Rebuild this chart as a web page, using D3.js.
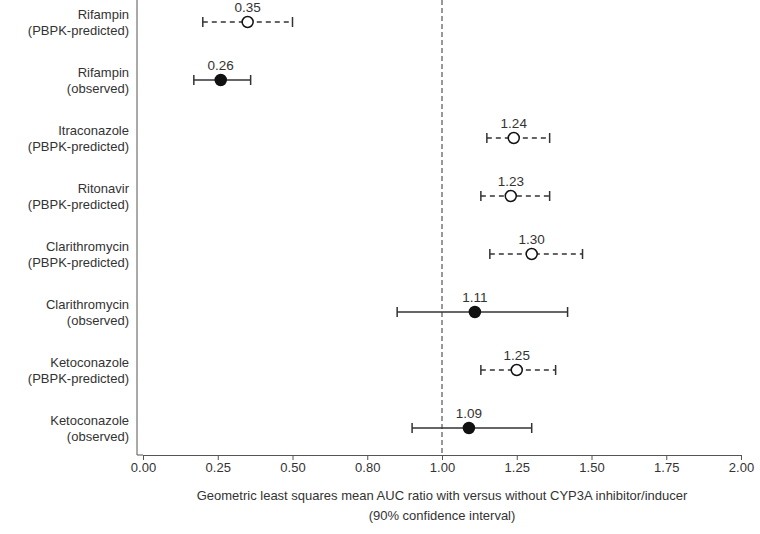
<!DOCTYPE html><html><head><meta charset="utf-8"><script src="https://cdn.jsdelivr.net/npm/d3@7"></script>
<style>body{margin:0;background:#fff}text{font-family:Arial,"Liberation Sans",sans-serif}</style></head><body><svg id="c" width="760" height="534"></svg>
<script>
const drugs=["Rifampin","Rifampin","Itraconazole","Ritonavir","Clarithromycin","Clarithromycin","Ketoconazole","Ketoconazole"];
const kinds=["(PBPK-predicted)","(observed)","(PBPK-predicted)","(PBPK-predicted)","(PBPK-predicted)","(observed)","(PBPK-predicted)","(observed)"];
const est=[0.35,0.26,1.24,1.23,1.30,1.11,1.25,1.09];
const lo=[0.20,0.17,1.15,1.13,1.16,0.85,1.13,0.90];
const hi=[0.50,0.36,1.36,1.36,1.47,1.42,1.38,1.30];
const tickVals=[0,0.25,0.5,0.75,1,1.25,1.5,1.75,2];
const tickLabels=["0.00","0.25","0.50","0.80","1.00","1.25","1.50","1.75","2.00"];
const svg=d3.select("#c");
const x=d3.scaleLinear().domain([0,2]).range([143,741]);
const y=d3.scaleBand().domain(d3.range(8)).range([0,464]).padding(0);
const cy=i=>y(i)+y.bandwidth()/2-7;
svg.append("g").attr("transform","translate(0,455)").call(d3.axisBottom(x).tickValues(tickVals).tickFormat((d,i)=>tickLabels[i]).tickSizeOuter(0).tickSize(5))
 .call(g=>{g.selectAll("text").attr("font-size",13).attr("fill","#333");g.selectAll("path,line").attr("stroke","#555");});
svg.append("line").attr("x1",137).attr("x2",137).attr("y1",0).attr("y2",455).attr("stroke","#555");
svg.append("line").attr("x1",137).attr("x2",143).attr("y1",455).attr("y2",455).attr("stroke","#555");
svg.append("line").attr("x1",x(1)).attr("x2",x(1)).attr("y1",0).attr("y2",455).attr("stroke","#777").attr("stroke-dasharray","5,3").attr("stroke-width",1.5);
d3.range(8).forEach(i=>{
 const g=svg.append("g"),yy=cy(i),pred=kinds[i].includes("PBPK");
 g.append("line").attr("x1",x(lo[i])).attr("x2",x(hi[i])).attr("y1",yy).attr("y2",yy).attr("stroke","#333").attr("stroke-width",1.5).attr("stroke-dasharray",pred?"5,4":null);
 [lo[i],hi[i]].forEach(v=>g.append("line").attr("x1",x(v)).attr("x2",x(v)).attr("y1",yy-5).attr("y2",yy+5).attr("stroke","#333").attr("stroke-width",1.5));
 g.append("circle").attr("cx",x(est[i])).attr("cy",yy).attr("r",5.5).attr("fill",pred?"#fff":"#111").attr("stroke","#111").attr("stroke-width",1.5);
 g.append("text").attr("x",x(est[i])).attr("y",yy-10).attr("text-anchor","middle").attr("font-size",13.5).attr("fill","#333").text(est[i].toFixed(2));
 const t=svg.append("text").attr("text-anchor","end").attr("font-size",13).attr("fill","#333");
 t.append("tspan").attr("x",129).attr("y",yy-3).text(drugs[i]);
 t.append("tspan").attr("x",129).attr("y",yy+13).text(kinds[i]);
});
svg.append("text").attr("x",442).attr("y",500).attr("text-anchor","middle").attr("font-size",13).attr("fill","#333").text("Geometric least squares mean AUC ratio with versus without CYP3A inhibitor/inducer");
svg.append("text").attr("x",442).attr("y",520).attr("text-anchor","middle").attr("font-size",13).attr("fill","#333").text("(90% confidence interval)");
</script></body></html>
